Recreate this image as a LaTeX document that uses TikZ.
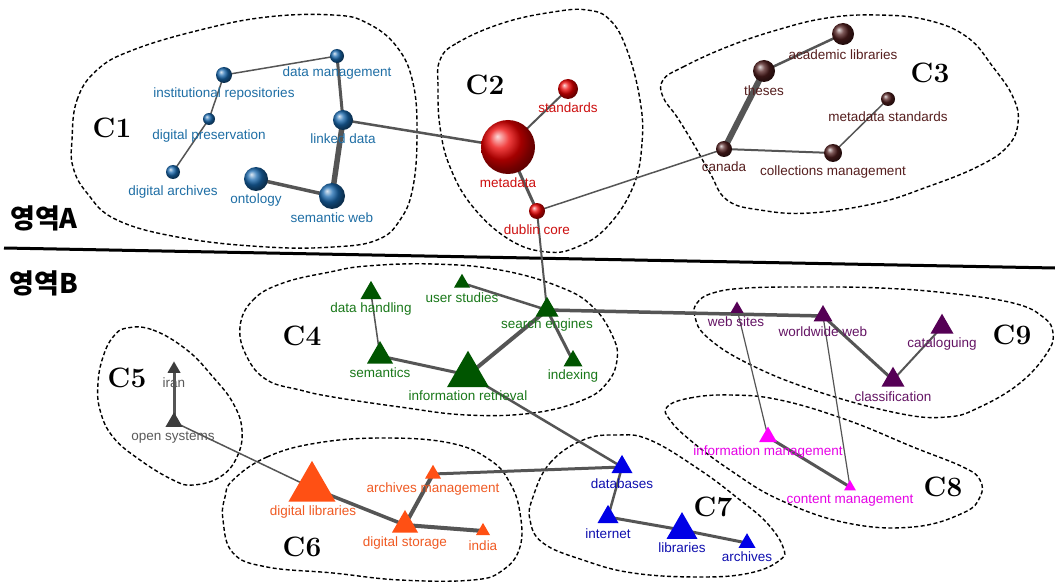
\documentclass[tikz,border=0pt]{standalone}
\usepackage{fontspec}
\newfontfamily\lblfamily{Liberation Sans}
\newfontfamily\krfont{Noto Sans CJK KR}
\usetikzlibrary{shapes.geometric,backgrounds}
\definecolor{edgecol}{RGB}{85,85,85}
\definecolor{cA}{RGB}{25,105,175}\definecolor{cAt}{RGB}{30,110,165}
\definecolor{cB}{RGB}{235,0,0}\definecolor{cBt}{RGB}{205,15,15}
\definecolor{cC}{RGB}{80,30,30}\definecolor{cCt}{RGB}{85,30,30}
\definecolor{cD}{RGB}{0,85,0}\definecolor{cDt}{RGB}{25,120,25}
\definecolor{cE}{RGB}{60,60,60}\definecolor{cEt}{RGB}{90,90,90}
\definecolor{cF}{RGB}{255,80,20}\definecolor{cFt}{RGB}{240,90,35}
\definecolor{cG}{RGB}{0,0,230}\definecolor{cGt}{RGB}{15,15,175}
\definecolor{cH}{RGB}{255,0,255}\definecolor{cHt}{RGB}{230,0,230}
\definecolor{cI}{RGB}{85,0,85}\definecolor{cIt}{RGB}{100,20,100}
\tikzset{
  conn/.style={draw=edgecol, line width=#1},
  sph/.style={circle, inner sep=0pt, minimum size=#1},
  tri/.style={regular polygon, regular polygon sides=3, inner sep=0pt, minimum size=1.155*#1},
  lbl/.style={font=\lblfamily\fontsize{13.5}{15}\selectfont, inner sep=0pt},
  clab/.style={font=\fontsize{28}{30}\selectfont\bfseries, inner sep=0pt},
  kr/.style={font=\krfont\fontsize{27}{29}\selectfont\bfseries, inner sep=0pt},
  hull/.style={draw=black, dash pattern=on 4pt off 2.5pt, line width=1.4pt}
}
\begin{document}
\begin{tikzpicture}[x=1pt,y=-1pt]
\useasboundingbox (0,0) rectangle (1055,583);

% ---------- nodes C1 ----------
\node[sph=14, ball color=cA] (dm) at (337,56) {};
\node[sph=16, ball color=cA] (ir) at (224,75) {};
\node[sph=12, ball color=cA] (dp) at (209,119) {};
\node[sph=14, ball color=cA] (da) at (173,172) {};
\node[sph=20, ball color=cA] (ld) at (343,120) {};
\node[sph=24, ball color=cA] (on) at (256,179) {};
\node[sph=26, ball color=cA] (sw) at (332,196) {};
\node[lbl, text=cAt] (dm-l) at (337,73) {data management};
\node[lbl, text=cAt] (ir-l) at (224,94) {institutional repositories};
\node[lbl, text=cAt] (dp-l) at (209,136) {digital preservation};
\node[lbl, text=cAt] (da-l) at (173,192) {digital archives};
\node[lbl, text=cAt] (ld-l) at (343,139) {linked data};
\node[lbl, text=cAt] (on-l) at (256,200) {ontology};
\node[lbl, text=cAt] (sw-l) at (332,218) {semantic web};

% ---------- nodes C2 ----------
\node[sph=54, ball color=cB] (md) at (508,147) {};
\node[sph=20, ball color=cB] (st) at (568,89) {};
\node[sph=16, ball color=cB] (dc) at (537,211) {};
\node[lbl, text=cBt] (md-l) at (508,183) {metadata};
\node[lbl, text=cBt] (st-l) at (568,108) {standards};
\node[lbl, text=cBt] (dc-l) at (537,230) {dublin core};

% ---------- nodes C3 ----------
\node[sph=22, ball color=cC] (al) at (843,34) {};
\node[sph=22, ball color=cC] (th) at (764,71) {};
\node[sph=14, ball color=cC] (ms) at (888,99) {};
\node[sph=16, ball color=cC] (ca) at (724,149) {};
\node[sph=18, ball color=cC] (cm3) at (833,153) {};
\node[lbl, text=cCt] (al-l) at (843,55) {academic libraries};
\node[lbl, text=cCt] (th-l) at (764,91) {theses};
\node[lbl, text=cCt] (ms-l) at (888,117) {metadata standards};
\node[lbl, text=cCt] (ca-l) at (724,167) {canada};
\node[lbl, text=cCt] (cm3-l) at (833,172) {collections management};

% ---------- nodes C4 ----------
\node[tri=21, fill=cD] (dh) at (371,293) {};
\node[tri=16, fill=cD] (us) at (462,283) {};
\node[tri=23, fill=cD] (se) at (547,310) {};
\node[tri=26, fill=cD] (sm) at (380,356) {};
\node[tri=42, fill=cD] (inr) at (468,375) {};
\node[tri=19, fill=cD] (ix) at (573,361) {};
\node[lbl, text=cDt] (dh-l) at (371,309) {data handling};
\node[lbl, text=cDt] (us-l) at (462,298) {user studies};
\node[lbl, text=cDt] (se-l) at (547,325) {search engines};
\node[lbl, text=cDt] (sm-l) at (380,373) {semantics};
\node[lbl, text=cDt] (inr-l) at (468,396) {information retrieval};
\node[lbl, text=cDt] (ix-l) at (573,376) {indexing};

% ---------- nodes C5 ----------
\node[tri=13, fill=cE] (irn) at (174,369) {};
\node[tri=17, fill=cE] (os) at (174,422) {};
\node[lbl, text=cEt] (irn-l) at (174,383) {iran};
\node[lbl, text=cEt] (os-l) at (173,438) {open systems};

% ---------- nodes C6 ----------
\node[tri=47, fill=cF] (dl) at (312,488) {};
\node[tri=16, fill=cF] (am) at (433,474) {};
\node[tri=26, fill=cF] (ds) at (405,525) {};
\node[tri=14, fill=cF] (in) at (483,531) {};
\node[lbl, text=cFt] (dl-l) at (313,512) {digital libraries};
\node[lbl, text=cFt] (am-l) at (433,489) {archives management};
\node[lbl, text=cFt] (ds-l) at (405,543) {digital storage};
\node[lbl, text=cFt] (in-l) at (483,546) {india};

% ---------- nodes C7 ----------
\node[tri=21, fill=cG] (db) at (622,467) {};
\node[tri=21, fill=cG] (it) at (608,517) {};
\node[tri=31, fill=cG] (lb) at (682,530) {};
\node[tri=17, fill=cG] (ar) at (747,543) {};
\node[lbl, text=cGt] (db-l) at (622,484) {databases};
\node[lbl, text=cGt] (it-l) at (608,534) {internet};
\node[lbl, text=cGt] (lb-l) at (682,548) {libraries};
\node[lbl, text=cGt] (ar-l) at (747,557) {archives};

% ---------- nodes C8 ----------
\node[tri=18, fill=cH] (im) at (768,437) {};
\node[tri=12, fill=cH] (cmg) at (850,487) {};
\node[lbl, text=cHt] (im-l) at (768,452) {information management};
\node[lbl, text=cHt] (cmg-l) at (850,501) {content management};

% ---------- nodes C9 ----------
\node[tri=13, fill=cI] (ws) at (737,309) {};
\node[tri=19, fill=cI] (ww) at (823,316) {};
\node[tri=23, fill=cI] (ct) at (942,327) {};
\node[tri=23, fill=cI] (cl) at (893,380) {};
\node[lbl, text=cIt] (ws-l) at (736,322) {web sites};
\node[lbl, text=cIt] (ww-l) at (823,332) {worldwide web};
\node[lbl, text=cIt] (ct-l) at (942,344) {cataloguing};
\node[lbl, text=cIt] (cl-l) at (893,397) {classification};

% ---------- cluster labels ----------
\node[clab] (lC1) at (112,128) {C1};
\node[clab] (lC2) at (485,85) {C2};
\node[clab] (lC3) at (930,73) {C3};
\node[clab] (lC4) at (302,336) {C4};
\node[clab] (lC5) at (127,378) {C5};
\node[clab] (lC6) at (302,547) {C6};
\node[clab] (lC7) at (713,507) {C7};
\node[clab] (lC8) at (943,487) {C8};
\node[clab] (lC9) at (1012,335) {C9};
\node[kr] (zA) at (44,218) {영역A};
\node[kr] (zB) at (44,283) {영역B};

\coordinate (divL) at (4,248);
\coordinate (divR) at (1055,268);

\begin{scope}[on background layer]
  \fill[white] (0,0) rectangle (1055,583);
  % divider
  \draw[line width=3pt, black] (divL) -- (divR);
  % hulls
  \draw[hull] plot[smooth cycle, tension=0.7] coordinates {
    (72,140) (77,100) (97,70) (133,50) (200,30) (267,17) (333,15) (367,23) (397,47)
    (413,83) (417,133) (413,187) (400,220) (377,240) (333,247) (267,247) (183,238)
    (117,220) (87,193) (73,167)};
  \draw[hull] plot[smooth cycle, tension=0.7] coordinates {
    (440,60) (457,43) (503,23) (553,12) (587,10) (610,20) (627,50) (640,100) (642,143)
    (633,187) (607,227) (577,247) (547,252) (510,240) (473,207) (450,167) (440,127) (438,87)};
  \draw[hull] plot[smooth cycle, tension=0.7] coordinates {
    (663,80) (683,67) (727,47) (777,30) (827,18) (877,15) (927,20) (967,37) (993,67)
    (1013,97) (1018,123) (1007,147) (977,167) (927,187) (877,203) (810,213) (760,210)
    (727,200) (710,173) (693,143) (677,117) (663,97)};
  \draw[hull] plot[smooth cycle, tension=0.7] coordinates {
    (240,327) (253,300) (283,283) (330,272) (367,266) (433,264) (500,270) (560,287)
    (593,307) (613,337) (617,360) (607,383) (583,400) (533,413) (467,415) (400,407)
    (333,397) (300,390) (267,380) (247,357)};
  \draw[hull] plot[smooth cycle, tension=0.7] coordinates {
    (127,328) (153,330) (187,350) (213,377) (233,403) (242,430) (237,457) (220,477)
    (193,485) (173,480) (140,460) (113,437) (100,410) (98,383) (103,357) (113,337)};
  \draw[hull] plot[smooth cycle, tension=0.7] coordinates {
    (233,480) (267,457) (317,443) (383,438) (450,443) (490,460) (510,483) (520,513)
    (520,547) (503,570) (473,580) (400,580) (333,573) (267,567) (233,553) (223,520) (225,497)};
  \draw[hull] plot[smooth cycle, tension=0.7] coordinates {
    (533,497) (550,463) (583,440) (617,435) (650,440) (700,470) (740,500) (767,523)
    (783,547) (780,560) (750,573) (700,577) (633,573) (583,560) (543,543) (530,520)};
  \draw[hull] plot[smooth cycle, tension=0.7] coordinates {
    (667,407) (690,398) (730,395) (780,400) (847,420) (913,447) (963,467) (980,480)
    (980,497) (963,513) (913,527) (847,523) (780,500) (730,470) (690,440) (670,420)};
  \draw[hull] plot[smooth cycle, tension=0.7] coordinates {
    (697,303) (713,293) (747,288) (813,287) (880,288) (947,293) (1013,303) (1043,317)
    (1053,333) (1047,353) (1020,383) (980,407) (947,417) (897,413) (813,390) (747,363)
    (707,337) (695,317)};
  % edges C1
  \draw[conn=1.5] (ir.center) -- (dm.center);
  \draw[conn=1.5] (ir.center) -- (dp.center);
  \draw[conn=1.5] (dp.center) -- (da.center);
  \draw[conn=3] (dm.center) -- (ld.center);
  \draw[conn=5.5] (ld.center) -- (sw.center);
  \draw[conn=3.5] (on.center) -- (sw.center);
  \draw[conn=2.5] (ld.center) -- (md.center);
  % C2
  \draw[conn=2] (md.center) -- (st.center);
  \draw[conn=3] (md.center) -- (dc.center);
  \draw[conn=1.5] (dc.center) -- (ca.center);
  \draw[conn=2] (dc.center) -- (se.center);
  % C3
  \draw[conn=2.5] (th.center) -- (al.center);
  \draw[conn=6] (th.center) -- (ca.center);
  \draw[conn=2] (ca.center) -- (cm3.center);
  \draw[conn=1.5] (cm3.center) -- (ms.center);
  % C4
  \draw[conn=1.5] (dh.center) -- (sm.center);
  \draw[conn=3] (sm.center) -- (inr.center);
  \draw[conn=4] (inr.center) -- (se.center);
  \draw[conn=2.5] (us.center) -- (se.center);
  \draw[conn=3] (se.center) -- (ix.center);
  \draw[conn=3.5] (se.center) -- (ww.center);
  \draw[conn=2.5] (inr.center) -- (db.center);
  % C5
  \draw[conn=3] (irn.center) -- (os.center);
  \draw[conn=1.5] (os.center) -- (dl.center);
  % C6
  \draw[conn=3.5] (dl.center) -- (ds.center);
  \draw[conn=4] (ds.center) -- (am.center);
  \draw[conn=4] (ds.center) -- (in.center);
  \draw[conn=3] (am.center) -- (db.center);
  % C7
  \draw[conn=2.5] (db.center) -- (it.center);
  \draw[conn=3] (it.center) -- (lb.center);
  \draw[conn=3] (lb.center) -- (ar.center);
  % C8
  \draw[conn=3] (im.center) -- (cmg.center);
  \draw[conn=1.2] (ws.center) -- (im.center);
  \draw[conn=1.2] (ww.center) -- (cmg.center);
  % C9
  \draw[conn=3] (ww.center) -- (cl.center);
  \draw[conn=2] (cl.center) -- (ct.center);
\end{scope}
\end{tikzpicture}
\end{document}
